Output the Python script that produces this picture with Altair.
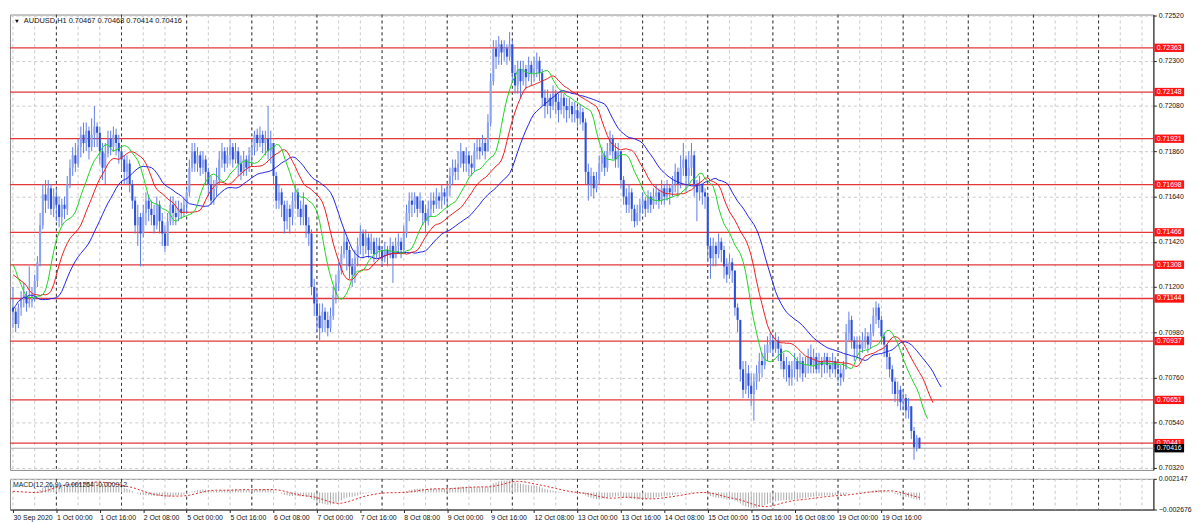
import json
import altair as alt
import pandas as pd

# ---------------- data (AUDUSD H1, 30 Sep 2020 08:00 .. 20 Oct 2020 06:00), prices in pips (1e-4) ----
first_open_pips = 7110.0
close_pips = [
    7108, 7102, 7110, 7114, 7116, 7112, 7113, 7116, 7123, 7132, 7150, 7165, 7162, 7168, 7158, 7164,
    7160, 7154, 7160, 7158, 7170, 7178, 7184, 7180, 7188, 7194, 7190, 7196, 7188, 7194, 7198, 7195, 7186, 7178, 7185, 7192, 7188, 7194, 7190, 7186,
    7182, 7176, 7180, 7170, 7162, 7150, 7154, 7146, 7156, 7162, 7158, 7155, 7150, 7160, 7152, 7146, 7140, 7152, 7160, 7156, 7154, 7158, 7156, 7160,
    7166, 7178, 7186, 7180, 7184, 7178, 7182, 7176, 7170, 7162, 7168, 7172, 7182, 7186, 7180, 7184, 7188, 7182, 7186, 7180, 7176, 7182, 7178, 7184,
    7188, 7194, 7190, 7194, 7190, 7192, 7186, 7190, 7174, 7162, 7166, 7160, 7152, 7158, 7154, 7162, 7166, 7158, 7154, 7160, 7150, 7146, 7120, 7112,
    7106, 7100, 7108, 7104, 7100, 7106, 7116, 7122, 7128, 7136, 7142, 7138, 7130, 7126, 7134, 7140, 7146, 7140, 7144, 7138, 7142, 7136, 7140, 7138,
    7134, 7138, 7136, 7140, 7134, 7140, 7142, 7138, 7146, 7156, 7162, 7160, 7164, 7158, 7162, 7156, 7152, 7158, 7162, 7160, 7164, 7162, 7166, 7164,
    7168, 7174, 7178, 7176, 7180, 7186, 7180, 7184, 7180, 7178, 7186, 7188, 7186, 7190, 7186, 7200, 7220, 7236, 7232, 7238, 7234, 7236, 7232, 7238,
    7224, 7218, 7226, 7220, 7226, 7222, 7228, 7224, 7226, 7230, 7224, 7212, 7208, 7212, 7208, 7214, 7210, 7206, 7212, 7208, 7206, 7208, 7204, 7206,
    7202, 7205, 7200, 7176, 7170, 7174, 7168, 7172, 7180, 7184, 7178, 7186, 7192, 7186, 7182, 7186, 7172, 7164, 7160, 7166, 7158, 7152, 7156, 7160,
    7162, 7158, 7164, 7160, 7164, 7166, 7162, 7168, 7164, 7168, 7166, 7170, 7176, 7170, 7178, 7182, 7174, 7178, 7184, 7170, 7166, 7170, 7166, 7164,
    7140, 7134, 7140, 7136, 7142, 7138, 7130, 7126, 7132, 7128, 7110, 7104, 7080, 7070, 7078, 7072, 7068, 7074, 7078, 7084, 7082, 7088, 7092, 7094,
    7090, 7094, 7090, 7084, 7080, 7082, 7076, 7080, 7084, 7080, 7084, 7078, 7082, 7086, 7082, 7086, 7080, 7084, 7082, 7086, 7082, 7080, 7084, 7080,
    7078, 7076, 7080, 7098, 7104, 7094, 7090, 7092, 7090, 7094, 7096, 7092, 7098, 7106, 7110, 7104, 7096, 7092, 7086, 7080, 7074, 7068, 7070, 7064,
    7066, 7060, 7062, 7050, 7042, 7046.7, 7041.6,
]
high_pips = [
    7120, 7110, 7112, 7118, 7122, 7118, 7130, 7120, 7126, 7135, 7156, 7170, 7172, 7172, 7170, 7168,
    7168, 7164, 7163, 7164, 7174, 7182, 7188, 7190, 7192, 7198, 7200, 7200, 7198, 7202, 7208, 7200, 7198, 7190, 7190, 7196, 7196, 7198, 7197, 7194,
    7188, 7184, 7184, 7182, 7172, 7164, 7160, 7156, 7160, 7166, 7165, 7162, 7160, 7164, 7162, 7156, 7150, 7156, 7164, 7164, 7162, 7162, 7161, 7163,
    7168, 7182, 7190, 7190, 7188, 7186, 7186, 7184, 7178, 7174, 7172, 7178, 7186, 7190, 7188, 7188, 7192, 7190, 7190, 7188, 7184, 7186, 7184, 7188,
    7192, 7196, 7197, 7198, 7196, 7196, 7208, 7196, 7190, 7176, 7170, 7168, 7162, 7162, 7160, 7166, 7170, 7168, 7162, 7166, 7160, 7154, 7148, 7124,
    7118, 7112, 7112, 7110, 7108, 7110, 7120, 7126, 7132, 7140, 7148, 7144, 7140, 7134, 7138, 7144, 7150, 7148, 7148, 7146, 7146, 7144, 7144, 7144,
    7140, 7142, 7140, 7144, 7142, 7144, 7146, 7144, 7150, 7160, 7166, 7166, 7166, 7164, 7166, 7162, 7160, 7162, 7166, 7166, 7168, 7166, 7170, 7168,
    7170, 7178, 7182, 7182, 7186, 7190, 7186, 7188, 7186, 7184, 7190, 7192, 7192, 7194, 7192, 7204, 7224, 7240, 7240, 7242, 7240, 7240, 7238, 7244,
    7240, 7228, 7230, 7230, 7230, 7228, 7232, 7230, 7232, 7234, 7232, 7226, 7216, 7216, 7214, 7218, 7216, 7214, 7216, 7214, 7212, 7212, 7210, 7210,
    7208, 7209, 7207, 7202, 7180, 7178, 7176, 7176, 7184, 7188, 7186, 7190, 7196, 7194, 7190, 7190, 7186, 7174, 7168, 7170, 7168, 7160, 7160, 7163,
    7166, 7164, 7167, 7166, 7168, 7170, 7168, 7172, 7170, 7172, 7170, 7174, 7180, 7178, 7184, 7190, 7184, 7186, 7190, 7186, 7172, 7174, 7170, 7168,
    7164, 7144, 7144, 7142, 7146, 7144, 7140, 7134, 7136, 7134, 7128, 7112, 7104, 7084, 7084, 7082, 7078, 7078, 7082, 7088, 7088, 7092, 7096, 7098,
    7096, 7098, 7096, 7092, 7088, 7086, 7084, 7084, 7088, 7086, 7088, 7086, 7086, 7090, 7092, 7090, 7088, 7088, 7086, 7088, 7088, 7086, 7088, 7086,
    7084, 7082, 7084, 7102, 7108, 7106, 7096, 7096, 7096, 7098, 7100, 7098, 7102, 7110, 7113, 7112, 7106, 7098, 7092, 7088, 7082, 7076, 7074, 7072,
    7070, 7068, 7066, 7062, 7052, 7048, 7046.8,
]
low_pips = [
    7100, 7098, 7100, 7106, 7110, 7108, 7110, 7110, 7113, 7120, 7130, 7148, 7156, 7158, 7155, 7154,
    7152, 7149, 7150, 7153, 7155, 7168, 7174, 7176, 7178, 7183, 7185, 7186, 7182, 7186, 7188, 7188, 7180, 7172, 7170, 7183, 7184, 7186, 7184, 7180,
    7176, 7170, 7170, 7166, 7158, 7146, 7140, 7130, 7144, 7150, 7152, 7150, 7146, 7148, 7146, 7140, 7137, 7140, 7150, 7150, 7150, 7152, 7153, 7154,
    7156, 7164, 7176, 7176, 7176, 7174, 7175, 7170, 7164, 7160, 7160, 7164, 7170, 7178, 7176, 7178, 7180, 7178, 7180, 7174, 7172, 7174, 7174, 7176,
    7180, 7184, 7186, 7188, 7185, 7184, 7182, 7180, 7170, 7158, 7158, 7154, 7146, 7148, 7146, 7150, 7158, 7154, 7150, 7150, 7144, 7140, 7116, 7106,
    7098, 7094, 7098, 7098, 7096, 7098, 7104, 7112, 7118, 7126, 7134, 7128, 7124, 7120, 7122, 7130, 7136, 7134, 7136, 7134, 7136, 7132, 7134, 7134,
    7130, 7132, 7130, 7134, 7122, 7134, 7136, 7134, 7136, 7144, 7152, 7154, 7156, 7154, 7156, 7150, 7146, 7150, 7154, 7156, 7158, 7158, 7158, 7160,
    7160, 7164, 7170, 7172, 7172, 7178, 7176, 7176, 7174, 7174, 7176, 7182, 7182, 7184, 7182, 7186, 7198, 7218, 7226, 7228, 7228, 7230, 7228, 7230,
    7220, 7214, 7214, 7212, 7218, 7216, 7220, 7218, 7220, 7222, 7220, 7208, 7202, 7204, 7202, 7206, 7204, 7200, 7204, 7202, 7200, 7202, 7200, 7200,
    7198, 7199, 7196, 7170, 7162, 7164, 7163, 7166, 7170, 7176, 7174, 7176, 7184, 7182, 7178, 7178, 7168, 7160, 7156, 7156, 7152, 7149, 7150, 7152,
    7156, 7154, 7156, 7156, 7158, 7160, 7158, 7160, 7160, 7162, 7160, 7164, 7166, 7164, 7168, 7174, 7166, 7170, 7174, 7164, 7152, 7162, 7160, 7158,
    7132, 7124, 7130, 7130, 7134, 7132, 7124, 7122, 7124, 7122, 7106, 7098, 7074, 7066, 7068, 7066, 7062, 7055, 7070, 7074, 7076, 7080, 7084, 7088,
    7086, 7088, 7084, 7080, 7076, 7074, 7072, 7072, 7076, 7074, 7076, 7074, 7076, 7078, 7078, 7078, 7078, 7078, 7076, 7078, 7078, 7076, 7078, 7076,
    7074, 7072, 7074, 7080, 7094, 7090, 7084, 7086, 7084, 7088, 7090, 7088, 7090, 7096, 7102, 7100, 7092, 7086, 7080, 7076, 7068, 7064, 7062, 7060,
    7060, 7056, 7056, 7046, 7036, 7040, 7041.4,
]

# Alligator values shown on the first bars (carried over from earlier history), pips
jaw_seed = [7109, 7111, 7113, 7114, 7115, 7115, 7116, 7116]
teeth_seed = [7126, 7125, 7124, 7123, 7122]
lips_seed = [7131, 7128, 7124]

# MACD(12,26,9) state carried over from earlier history
ema12_seed = 0.71180
ema26_seed = 0.71160
macd_seed = [0.0002, 0.0002, 0.0002, 0.0002, 0.0002, 0.0002, 0.0002, 0.0002]

level_prices = [0.72363, 0.72148, 0.71921, 0.71698, 0.71466, 0.71308, 0.71144, 0.70937, 0.70651, 0.70441]
bid_price = 0.70416
price_ticks = [0.72520, 0.72410, 0.72300, 0.72190, 0.72080, 0.71970, 0.71860, 0.71750, 0.71640, 0.71530,
               0.71420, 0.71310, 0.71200, 0.71090, 0.70980, 0.70870, 0.70760, 0.70650, 0.70540, 0.70430, 0.70320]
macd_ticks = [0.002147, 0.0, -0.002676]
time_labels = ["30 Sep 2020", "1 Oct 00:00", "1 Oct 16:00", "2 Oct 08:00", "5 Oct 00:00", "5 Oct 16:00",
               "6 Oct 08:00", "7 Oct 00:00", "7 Oct 16:00", "8 Oct 08:00", "9 Oct 00:00", "9 Oct 16:00",
               "12 Oct 08:00", "13 Oct 00:00", "13 Oct 16:00", "14 Oct 08:00", "15 Oct 00:00", "15 Oct 16:00",
               "16 Oct 08:00", "19 Oct 00:00", "19 Oct 16:00"]
symbol_name = "AUDUSD,H1"
macd_caption = "MACD(12,26,9) -0.001264 -0.000912"

# ---------------- derived tables ----------------
n = len(close_pips)
closes = [c / 1e4 for c in close_pips]
opens = [first_open_pips / 1e4] + closes[:-1]
highs = [max(h / 1e4, o, c) for h, o, c in zip(high_pips, opens, closes)]
lows = [min(l / 1e4, o, c) for l, o, c in zip(low_pips, opens, closes)]
bars = pd.DataFrame({"i": list(range(n)), "open": opens, "high": highs, "low": lows, "close": closes})
bars["dir"] = ["up" if c >= o else "down" for o, c in zip(opens, closes)]

median = [(h + l) / 2 for h, l in zip(highs, lows)]


def smma(vals, period, start):
    out, v = [], start
    for x in vals:
        v = (v * (period - 1) + x) / period
        out.append(v)
    return out


def alligator(seed, period, shift):
    seed_p = [s / 1e4 for s in seed]
    vals = smma(median, period, seed_p[-1])
    xs_ = list(range(len(seed_p))) + [k + shift for k in range(n)]
    return pd.DataFrame({"i": xs_, "v": seed_p + vals})


jaw = alligator(jaw_seed, 13, 8)
teeth = alligator(teeth_seed, 8, 5)
lips = alligator(lips_seed, 5, 3)


def ema(vals, period, start):
    a = 2.0 / (period + 1)
    out, v = [], start
    for x in vals:
        v = v + a * (x - v)
        out.append(v)
    return out


e12 = ema(closes, 12, ema12_seed)
e26 = ema(closes, 26, ema26_seed)
macd_main = [a - b for a, b in zip(e12, e26)]
hist_all = macd_seed + macd_main
signal = [sum(hist_all[k:k + 9]) / 9 for k in range(n)]
macd_df = pd.DataFrame({"i": list(range(n)), "macd": macd_main, "signal": signal})

levels_df = pd.DataFrame({"price": level_prices, "label": [f"{p:.5f}" for p in level_prices]})
bid_df = pd.DataFrame({"price": [bid_price], "label": [f"{bid_price:.5f}"]})

W = 1155
H_MAIN = 460
H_MACD = 31
X_MIN, X_MAX = -1.1, 420.2
grid_x = list(range(0, 421, 8))
day_x = list(range(16, 421, 24))
label_x = [16 * k for k in range(len(time_labels))]

FONT = "Liberation Sans"
GRID = "#c9c9c9"
xs = alt.Scale(domain=[X_MIN, X_MAX], nice=False, zero=False)
ys = alt.Scale(domain=[0.703105, 0.725247], nice=False, zero=False)
ms = alt.Scale(domain=[-0.002676, 0.002147], nice=False, zero=False, clamp=True)

no_x_axis = alt.Axis(labels=False, ticks=False, domain=False, grid=False, title=None)

# ---------------- main pane ----------------
vgrid_df = pd.DataFrame({"x": grid_x})
day_df = pd.DataFrame({"x": day_x})

vgrid = alt.Chart(vgrid_df).mark_rule(color=GRID, strokeDash=[3, 3], strokeWidth=1).encode(
    x=alt.X("x:Q", scale=xs, axis=no_x_axis))
days = alt.Chart(day_df).mark_rule(color="#333333", strokeDash=[3, 3], strokeWidth=1).encode(
    x=alt.X("x:Q", scale=xs, axis=no_x_axis))

y_axis = alt.Axis(orient="right", values=price_ticks, format=".5f", title=None, labelFontSize=7,
                  labelFont=FONT, labelColor="#111", tickSize=3, tickColor="#222", domainColor="#222",
                  grid=True, gridColor=GRID, gridDash=[3, 3], labelPadding=2, labelOverlap=False,
                  labelFlush=False)

levels = alt.Chart(levels_df).mark_rule(color="#e3373a", strokeWidth=1.3).encode(
    y=alt.Y("price:Q", scale=ys, axis=y_axis))
bid_line = alt.Chart(bid_df).mark_rule(color="#a8a8a8", strokeWidth=1).encode(
    y=alt.Y("price:Q", scale=ys))

wicks = alt.Chart(bars).mark_rule(color="#5f7ce6", strokeWidth=1).encode(
    x=alt.X("i:Q", scale=xs, axis=no_x_axis),
    y=alt.Y("low:Q", scale=ys),
    y2="high:Q")
bodies = alt.Chart(bars).transform_calculate(
    xl="datum.i - 0.38", xr="datum.i + 0.38"
).mark_rect().encode(
    x=alt.X("xl:Q", scale=xs, axis=no_x_axis),
    x2="xr:Q",
    y=alt.Y("open:Q", scale=ys),
    y2="close:Q",
    color=alt.Color("dir:N", scale=alt.Scale(domain=["up", "down"], range=["#8aa2ef", "#2d50d6"]), legend=None))

jaw_line = alt.Chart(jaw).mark_line(color="#2323e6", strokeWidth=1).encode(
    x=alt.X("i:Q", scale=xs, axis=no_x_axis), y=alt.Y("v:Q", scale=ys))
teeth_line = alt.Chart(teeth).mark_line(color="#ee1c1c", strokeWidth=1).encode(
    x=alt.X("i:Q", scale=xs, axis=no_x_axis), y=alt.Y("v:Q", scale=ys))
lips_line = alt.Chart(lips).mark_line(color="#1fd21f", strokeWidth=1).encode(
    x=alt.X("i:Q", scale=xs, axis=no_x_axis), y=alt.Y("v:Q", scale=ys))

BOX = "M-1,-0.28H1V0.28H-1Z"
level_box = alt.Chart(levels_df).mark_point(shape=BOX, filled=True, size=900, opacity=1,
                                            color="#ff1414", strokeWidth=0).encode(
    x=alt.value(W + 16), y=alt.Y("price:Q", scale=ys))
level_txt = alt.Chart(levels_df).mark_text(fontSize=7, font=FONT, color="white", align="center",
                                           baseline="middle").encode(
    x=alt.value(W + 16), y=alt.Y("price:Q", scale=ys), text="label:N")
bid_box = alt.Chart(bid_df).mark_point(shape=BOX, filled=True, size=900, opacity=1,
                                       color="#000000", strokeWidth=0).encode(
    x=alt.value(W + 16), y=alt.Y("price:Q", scale=ys))
bid_txt = alt.Chart(bid_df).mark_text(fontSize=7, font=FONT, color="white", align="center",
                                      baseline="middle").encode(
    x=alt.value(W + 16), y=alt.Y("price:Q", scale=ys), text="label:N")

last = bars.iloc[-1]
header_text = f"{symbol_name}  {last['open']:.5f} {last['high']:.5f} {last['low']:.5f} {last['close']:.5f}"
one = pd.DataFrame({"a": [0]})
header = alt.Chart(one).mark_text(fontSize=7.5, font=FONT, color="#111", align="left", baseline="middle").encode(
    x=alt.value(14), y=alt.value(7), text=alt.value(header_text))
header_tri = alt.Chart(one).mark_point(shape="triangle-down", filled=True, size=14, color="#111", opacity=1).encode(
    x=alt.value(7), y=alt.value(7))

main = alt.layer(
    vgrid, days, levels, bid_line, wicks, bodies, jaw_line, teeth_line, lips_line,
    level_box, level_txt, bid_box, bid_txt, header, header_tri
).properties(width=W, height=H_MAIN)

# ---------------- MACD pane ----------------
label_expr = json.dumps(time_labels) + "[round(datum.value / 16)]"
x_axis = alt.Axis(values=label_x, labelExpr=label_expr, labelAlign="left", labelFontSize=7, labelFont=FONT,
                  labelColor="#111", tickSize=3, tickColor="#222", domainColor="#222", grid=False, title=None,
                  labelPadding=1, labelOverlap=False, labelFlush=False, labelBound=False)
macd_axis = alt.Axis(orient="right", values=macd_ticks, title=None, labelFontSize=7, labelFont=FONT,
                     labelColor="#111", tickSize=3, tickColor="#222", domainColor="#222",
                     labelExpr="datum.value == 0 ? '0.00' : format(datum.value, '.6f')",
                     grid=True, gridColor=GRID, gridDash=[3, 3], labelPadding=2, labelOverlap=False,
                     labelFlush=False)

m_vgrid = alt.Chart(vgrid_df).mark_rule(color=GRID, strokeDash=[3, 3]).encode(
    x=alt.X("x:Q", scale=xs, axis=x_axis))
m_days = alt.Chart(day_df).mark_rule(color="#333333", strokeDash=[3, 3]).encode(
    x=alt.X("x:Q", scale=xs))
hist = alt.Chart(macd_df).transform_calculate(zero="0").mark_rule(color="#ababab", strokeWidth=1).encode(
    x=alt.X("i:Q", scale=xs),
    y=alt.Y("macd:Q", scale=ms, axis=macd_axis),
    y2="zero:Q")
sig = alt.Chart(macd_df).mark_line(color="#e02222", strokeDash=[2, 2], strokeWidth=1).encode(
    x=alt.X("i:Q", scale=xs), y=alt.Y("signal:Q", scale=ms))
macd_label = alt.Chart(one).mark_text(fontSize=7, font=FONT, color="#222", align="left", baseline="middle").encode(
    x=alt.value(3), y=alt.value(6), text=alt.value(macd_caption))

macd = alt.layer(m_vgrid, m_days, hist, sig, macd_label).properties(width=W, height=H_MACD)

chart = alt.vconcat(main, macd, spacing=2).properties(
    padding=0, background="white"
).configure_view(stroke="#8a8a8a", strokeWidth=1)

chart.save("out.html", embed_options={"renderer": "svg", "actions": False})
